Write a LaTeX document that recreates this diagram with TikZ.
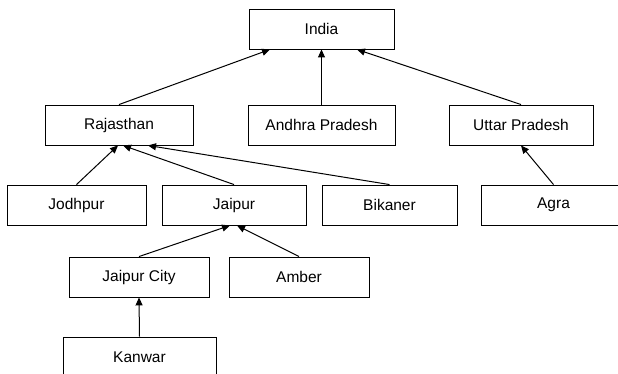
\documentclass[tikz,border=0pt]{standalone}
\usepackage{fontspec}
\setmainfont{Liberation Sans}
\usetikzlibrary{arrows.meta}
\begin{document}
\begin{tikzpicture}[x=1pt,y=-1pt,
  place/.style={draw=black, line width=0.9pt, minimum height=40pt, inner sep=0pt,
    font=\fontsize{15.5}{18}\selectfont},
  link/.style={draw=black, line width=1pt, -{Triangle[length=8pt,width=7pt]}}]
  \useasboundingbox (0,0) rectangle (618,373);
  % top level
  \node[place, minimum width=145pt] (india) at (321.5,29) {India};
  % states
  \node[place, minimum width=148pt] (raj) at (119,125) {Rajasthan};
  \node[place, minimum width=147pt] (ap) at (321.5,125) {Andhra Pradesh};
  \node[place, minimum width=144pt] (up) at (521,125) {Uttar Pradesh};
  % districts
  \node[place, minimum width=139pt] (jodh) at (76.5,205) {Jodhpur};
  \node[place, minimum width=144pt] (jaipur) at (234,205) {Jaipur};
  \node[place, minimum width=135pt] (bik) at (389.5,205) {Bikaner};
  \node[place, minimum width=145pt] (agra) at (553.5,205) {Agra};
  % towns
  \node[place, minimum width=140pt] (jcity) at (139,277) {Jaipur City};
  \node[place, minimum width=140pt] (amber) at (299,277) {Amber};
  \node[place, minimum width=153pt] (kanwar) at (139.5,357) {Kanwar};
  % connectors
  \draw[link] (raj.north) -- ([xshift=-51.5pt]india.south);
  \draw[link] (ap.north) -- (india.south);
  \draw[link] (up.north) -- ([xshift=35.5pt]india.south);
  \draw[link] (jodh.north) -- ([xshift=-1pt]raj.south);
  \draw[link] (jaipur.north) -- ([xshift=4pt]raj.south);
  \draw[link] (bik.north) -- ([xshift=29pt]raj.south);
  \draw[link] (agra.north) -- (up.south);
  \draw[link] (jcity.north) -- ([xshift=-4pt]jaipur.south);
  \draw[link] (amber.north) -- ([xshift=3pt]jaipur.south);
  \draw[link] (kanwar.north) -- (jcity.south);
\end{tikzpicture}
\end{document}
